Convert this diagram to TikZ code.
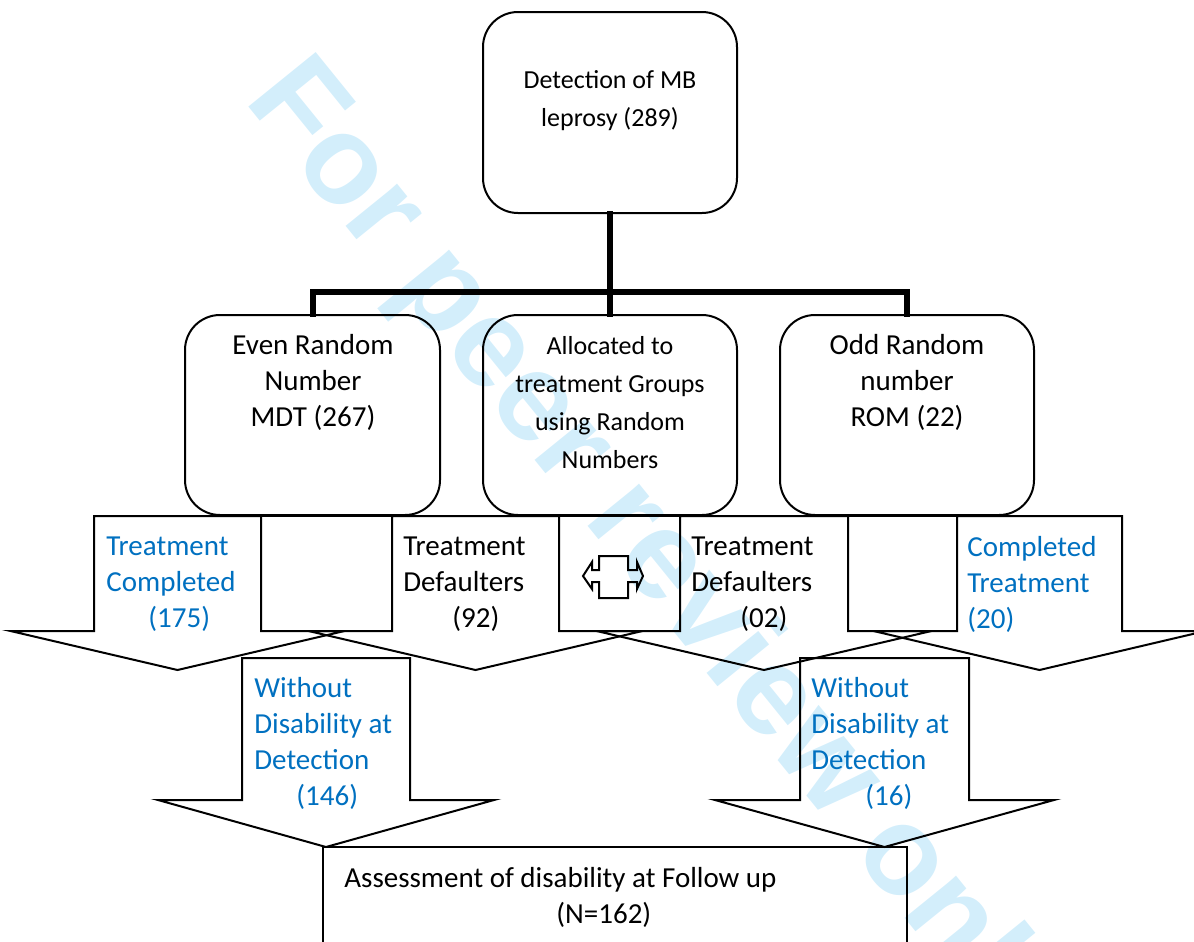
\documentclass[tikz,border=0pt]{standalone}
\usepackage{fontspec}
\setmainfont{Carlito}
\newfontfamily\wmfont{Liberation Sans}
\definecolor{txtblue}{HTML}{0070C0}
\definecolor{wmblue}{HTML}{D3EEFB}
\newcommand{\darr}[6]{%
  \draw[outl] (#1,#3) -- (#2,#3) -- (#2,#4) -- ({#2+#6},#4) -- ({(#1+#2)/2},#5) -- ({#1-#6},#4) -- (#1,#4) -- cycle;}
\begin{document}
\begin{tikzpicture}[x=0.5pt,y=-0.5pt,
  outl/.style={draw=black, line width=1pt, line join=miter},
  rbox/.style={outl, rounded corners=17.5pt, inner sep=0pt, minimum width=127pt, minimum height=100pt},
  bigtxt/.style={font=\fontsize{14.5}{18}\selectfont, align=center, inner sep=0pt},
  smtxt/.style={font=\fontsize{13}{19}\selectfont, align=center, inner sep=0pt},
  bluetxt/.style={font=\fontsize{14.5}{18}\selectfont, align=left, inner sep=0pt, text=txtblue, anchor=west},
  blktxt/.style={font=\fontsize{14.5}{18}\selectfont, align=left, inner sep=0pt, anchor=west},
  busline/.style={line width=3pt, line cap=rect, line join=miter},
  wm/.style={font=\wmfont\bfseries\fontsize{63}{70}\selectfont, text=wmblue, inner sep=0pt}]
\useasboundingbox (0,0) rectangle (1194,942);
\clip (0,0) rectangle (1194,942);
% watermark
\node[wm, rotate=-51, anchor=base west] (wmark) at (243,100) {For peer review only};
% top level box
\node[rbox, minimum height=100.5pt] (top) at (610,112.5) {};
\node[smtxt] (topT) at (610,101) {Detection of MB\\leprosy (289)};
% second level boxes
\node[rbox, minimum width=127.5pt] (even) at (312.5,415) {};
\node[bigtxt] (evenT) at (313,382) {Even Random\\Number\\MDT (267)};
\node[rbox] (alloc) at (610,415) {};
\node[smtxt] (allocT) at (610,403) {Allocated to\\treatment Groups\\using Random\\Numbers};
\node[rbox] (odd) at (907,415) {};
\node[bigtxt] (oddT) at (907,382) {Odd Random\\number\\ROM (22)};
% tree connector
\coordinate (bus) at (610,292);
\draw[busline] (top.south) -- (bus);
\draw[busline] (even.north) |- (bus) -| (odd.north);
\draw[busline] (bus) -- (alloc.north);
% first row of block arrows
\darr{94}{261}{516}{631}{670}{83.5}
\darr{392}{559}{516}{631}{670}{83.5}
\darr{680}{848}{516}{631}{670}{83.5}
\darr{957}{1122}{516}{631}{670}{83.5}
\draw[outl] (261,516) rectangle (392,631);
\draw[outl] (559,516) rectangle (680,631);
\draw[outl] (848,516) rectangle (957,631);
% left-right arrow icon
\draw[outl] (599,556) -- (628,556) -- (628,570) -- (637,570) -- (637,562) -- (643,576) -- (637,589) -- (637,582) -- (628,582) -- (628,598) -- (599,598) -- (599,582) -- (592,582) -- (592,589) -- (583,576) -- (592,562) -- (592,570) -- (599,570) -- cycle;
\node[bluetxt] (tc) at (106,584) {Treatment\\Completed\\\hspace*{21pt}(175)};
\node[blktxt] (td1) at (403,584) {Treatment\\Defaulters\\\hspace*{24.5pt}(92)};
\node[blktxt] (td2) at (691,584) {Treatment\\Defaulters\\\hspace*{24.5pt}(02)};
\node[bluetxt] (ct) at (967,584) {Completed\\Treatment\\(20)};
% second row of block arrows
\darr{242}{410}{658}{800}{847}{84}
\darr{800}{969}{658}{800}{847}{85}
\node[bluetxt] (wd1) at (254,743) {Without\\Disability at\\Detection\\\hspace*{21pt}(146)};
\node[bluetxt] (wd2) at (811,743) {Without\\Disability at\\Detection\\\hspace*{27pt}(16)};
% bottom box
\draw[outl] (323,970) -- (323,847) -- (907,847) -- (907,970);
\node[blktxt] (assess) at (344,897) {Assessment of disability at Follow up\\\hspace*{106pt}(N=162)};
\end{tikzpicture}
\end{document}
